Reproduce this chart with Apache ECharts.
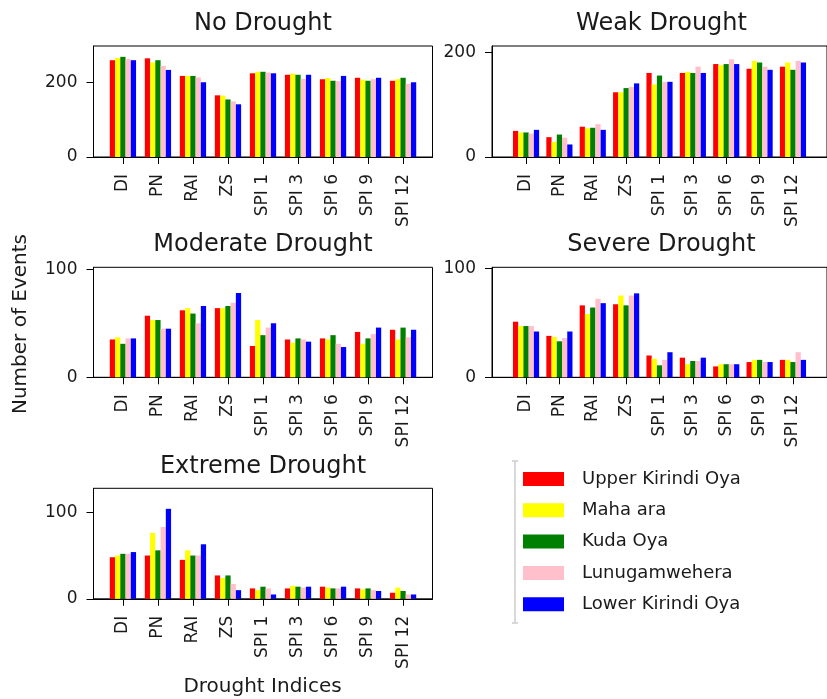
<!DOCTYPE html>
<html>
<head>
<meta charset="utf-8">
<script src="https://cdn.jsdelivr.net/npm/echarts@6/dist/echarts.min.js"></script>
<style>
  html, body { margin: 0; padding: 0; background: #fff; }
  #chart { width: 827px; height: 699px; }
</style>
</head>
<body>
<div id="chart"></div>
<script>
// Drought indices on the category axis
const categories = ['DI', 'PN', 'RAI', 'ZS', 'SPI 1', 'SPI 3', 'SPI 6', 'SPI 9', 'SPI 12'];
const stations = ['Upper Kirindi Oya', 'Maha ara', 'Kuda Oya', 'Lunugamwehera', 'Lower Kirindi Oya'];
const stationColors = ['#ff0000', '#ffff00', '#008000', '#ffc0cb', '#0000ff'];

// Number of events per drought class, one row per station (same order as `stations`)
const noDrought = [
  [259, 264, 217, 165, 224, 220, 208, 212, 204],
  [265, 253, 217, 164, 228, 223, 211, 207, 208],
  [268, 259, 217, 154, 228, 220, 204, 204, 212],
  [262, 244, 213, 149, 226, 209, 203, 208, 196],
  [259, 233, 200, 141, 224, 220, 217, 212, 200]
];
const weakDrought = [
  [50, 38, 58, 124, 161, 161, 178, 169, 173],
  [47, 29, 55, 124, 139, 163, 176, 184, 181],
  [47, 43, 56, 132, 156, 161, 178, 181, 167],
  [45, 37, 63, 134, 144, 173, 187, 173, 184],
  [52, 24, 52, 141, 144, 161, 178, 167, 181]
];
const moderateDrought = [
  [35, 57, 62, 64, 29, 35, 36, 42, 44],
  [37, 53, 64, 64, 53, 32, 35, 31, 35],
  [31, 53, 59, 66, 39, 36, 39, 36, 46],
  [36, 45, 50, 69, 46, 35, 31, 40, 37],
  [36, 45, 66, 78, 50, 33, 28, 46, 44]
];
const severeDrought = [
  [51, 38, 66, 67, 20, 18, 10, 14, 16],
  [47, 37, 58, 75, 17, 12, 12, 16, 16],
  [47, 33, 64, 66, 11, 15, 12, 16, 14],
  [47, 36, 72, 75, 16, 15, 12, 14, 23],
  [42, 42, 68, 77, 23, 18, 12, 14, 16]
];
const extremeDrought = [
  [48, 50, 45, 27, 12, 12, 14, 12, 7],
  [50, 76, 56, 24, 10, 15, 13, 11, 13],
  [52, 56, 50, 27, 14, 14, 12, 12, 9],
  [52, 83, 50, 17, 12, 13, 12, 10, 5],
  [54, 104, 63, 10, 5, 14, 14, 9, 5]
];

// Y tick values per panel
const yTicksNo = [0, 200];
const yTicksWeak = [0, 200];
const yTicksModerate = [0, 100];
const yTicksSevere = [0, 100];
const yTicksExtreme = [0, 100];

const FONT = 'DejaVu Sans';
const TICK_FS = 17;

// Panel layout: frame box in pixels, x range in category units, y max
const panels = [
  { title: 'No Drought',       data: noDrought,       ticks: yTicksNo,       ymax: 297,   box: [93.5, 46, 339, 111],  xr: [-0.84, 8.84] },
  { title: 'Weak Drought',     data: weakDrought,     ticks: yTicksWeak,     ymax: 212.6, box: [492, 46, 350, 111],   xr: [-1.02, 9.02] },
  { title: 'Moderate Drought', data: moderateDrought, ticks: yTicksModerate, ymax: 101.8, box: [93.5, 267.3, 339, 110], xr: [-0.84, 8.84] },
  { title: 'Severe Drought',   data: severeDrought,   ticks: yTicksSevere,   ymax: 100.9, box: [492, 267.3, 350, 110],  xr: [-1.02, 9.02] },
  { title: 'Extreme Drought',  data: extremeDrought,  ticks: yTicksExtreme,  ymax: 127.7, box: [93.5, 488.3, 339, 110.5], xr: [-0.84, 8.84] }
];
const titleY = [24, 24, 245, 245, 466.5];

const grid = [], xAxis = [], yAxis = [], series = [], graphic = [];
const catIdx = categories.map((c, i) => i);

panels.forEach((p, k) => {
  const [left, top, width, height] = p.box;
  grid.push({ left, top, width, height, show: true, borderColor: '#000', borderWidth: 1, backgroundColor: 'transparent' });
  const pxPerUnit = width / (p.xr[1] - p.xr[0]);
  xAxis.push({
    gridIndex: k, type: 'value', min: p.xr[0], max: p.xr[1],
    axisLine: { show: true, onZero: false, lineStyle: { color: '#000', width: 1 } },
    axisTick: { show: true, customValues: catIdx, length: 7, lineStyle: { color: '#000' } },
    axisLabel: {
      show: true, customValues: catIdx, rotate: 90, margin: 17,
      formatter: v => categories[Math.round(v)],
      fontFamily: FONT, fontSize: TICK_FS, color: '#1a1a1a'
    },
    splitLine: { show: false }
  });
  yAxis.push({
    gridIndex: k, type: 'value', min: 0, max: p.ymax,
    axisLine: { show: true, onZero: false, lineStyle: { color: '#000', width: 1 } },
    axisTick: { show: true, customValues: p.ticks, length: 7, lineStyle: { color: '#000' } },
    axisLabel: { show: true, customValues: p.ticks, margin: 16, fontFamily: FONT, fontSize: TICK_FS, color: '#1a1a1a' },
    splitLine: { show: false }
  });
  stations.forEach((name, s) => {
    series.push({
      type: 'bar', name, xAxisIndex: k, yAxisIndex: k,
      barWidth: 0.15 * pxPerUnit, barGap: '0%',
      itemStyle: { color: stationColors[s] },
      data: p.data[s].map((v, j) => [j, v]),
      animation: false
    });
  });
  graphic.push({
    type: 'text', x: left + 169.5, y: titleY[k],
    style: { text: p.title, fontFamily: FONT, fontSize: 24, fill: '#1a1a1a', align: 'center', verticalAlign: 'middle' }
  });
});

// Shared axis titles
graphic.push({
  type: 'text', x: 262.5, y: 687,
  style: { text: 'Drought Indices', fontFamily: FONT, fontSize: 20, fill: '#1a1a1a', align: 'center', verticalAlign: 'middle' }
});
graphic.push({
  type: 'text', x: 21, y: 324, rotation: Math.PI / 2,
  style: { text: 'Number of Events', fontFamily: FONT, fontSize: 20, fill: '#1a1a1a', align: 'center', verticalAlign: 'middle' }
});
// Legend frame edge
graphic.push({ type: 'line', shape: { x1: 515, y1: 461, x2: 515, y2: 623 }, style: { stroke: '#cccccc', lineWidth: 1.5 } });
graphic.push({ type: 'line', shape: { x1: 512, y1: 461, x2: 518, y2: 461 }, style: { stroke: '#cccccc', lineWidth: 1.5 } });
graphic.push({ type: 'line', shape: { x1: 512, y1: 623, x2: 518, y2: 623 }, style: { stroke: '#cccccc', lineWidth: 1.5 } });

const chart = echarts.init(document.getElementById('chart'), null, { renderer: 'canvas' });
chart.setOption({
  backgroundColor: '#fff',
  animation: false,
  grid, xAxis, yAxis, series, graphic,
  legend: {
    data: stations, orient: 'vertical', left: 523, top: 470, padding: 0,
    itemWidth: 41, itemHeight: 14, itemGap: 13.3, icon: 'rect',
    textStyle: { fontFamily: FONT, fontSize: 18, lineHeight: 18, color: '#1a1a1a', padding: [0, 0, 0, 13] },
    selectedMode: false
  }
});
</script>
</body>
</html>
